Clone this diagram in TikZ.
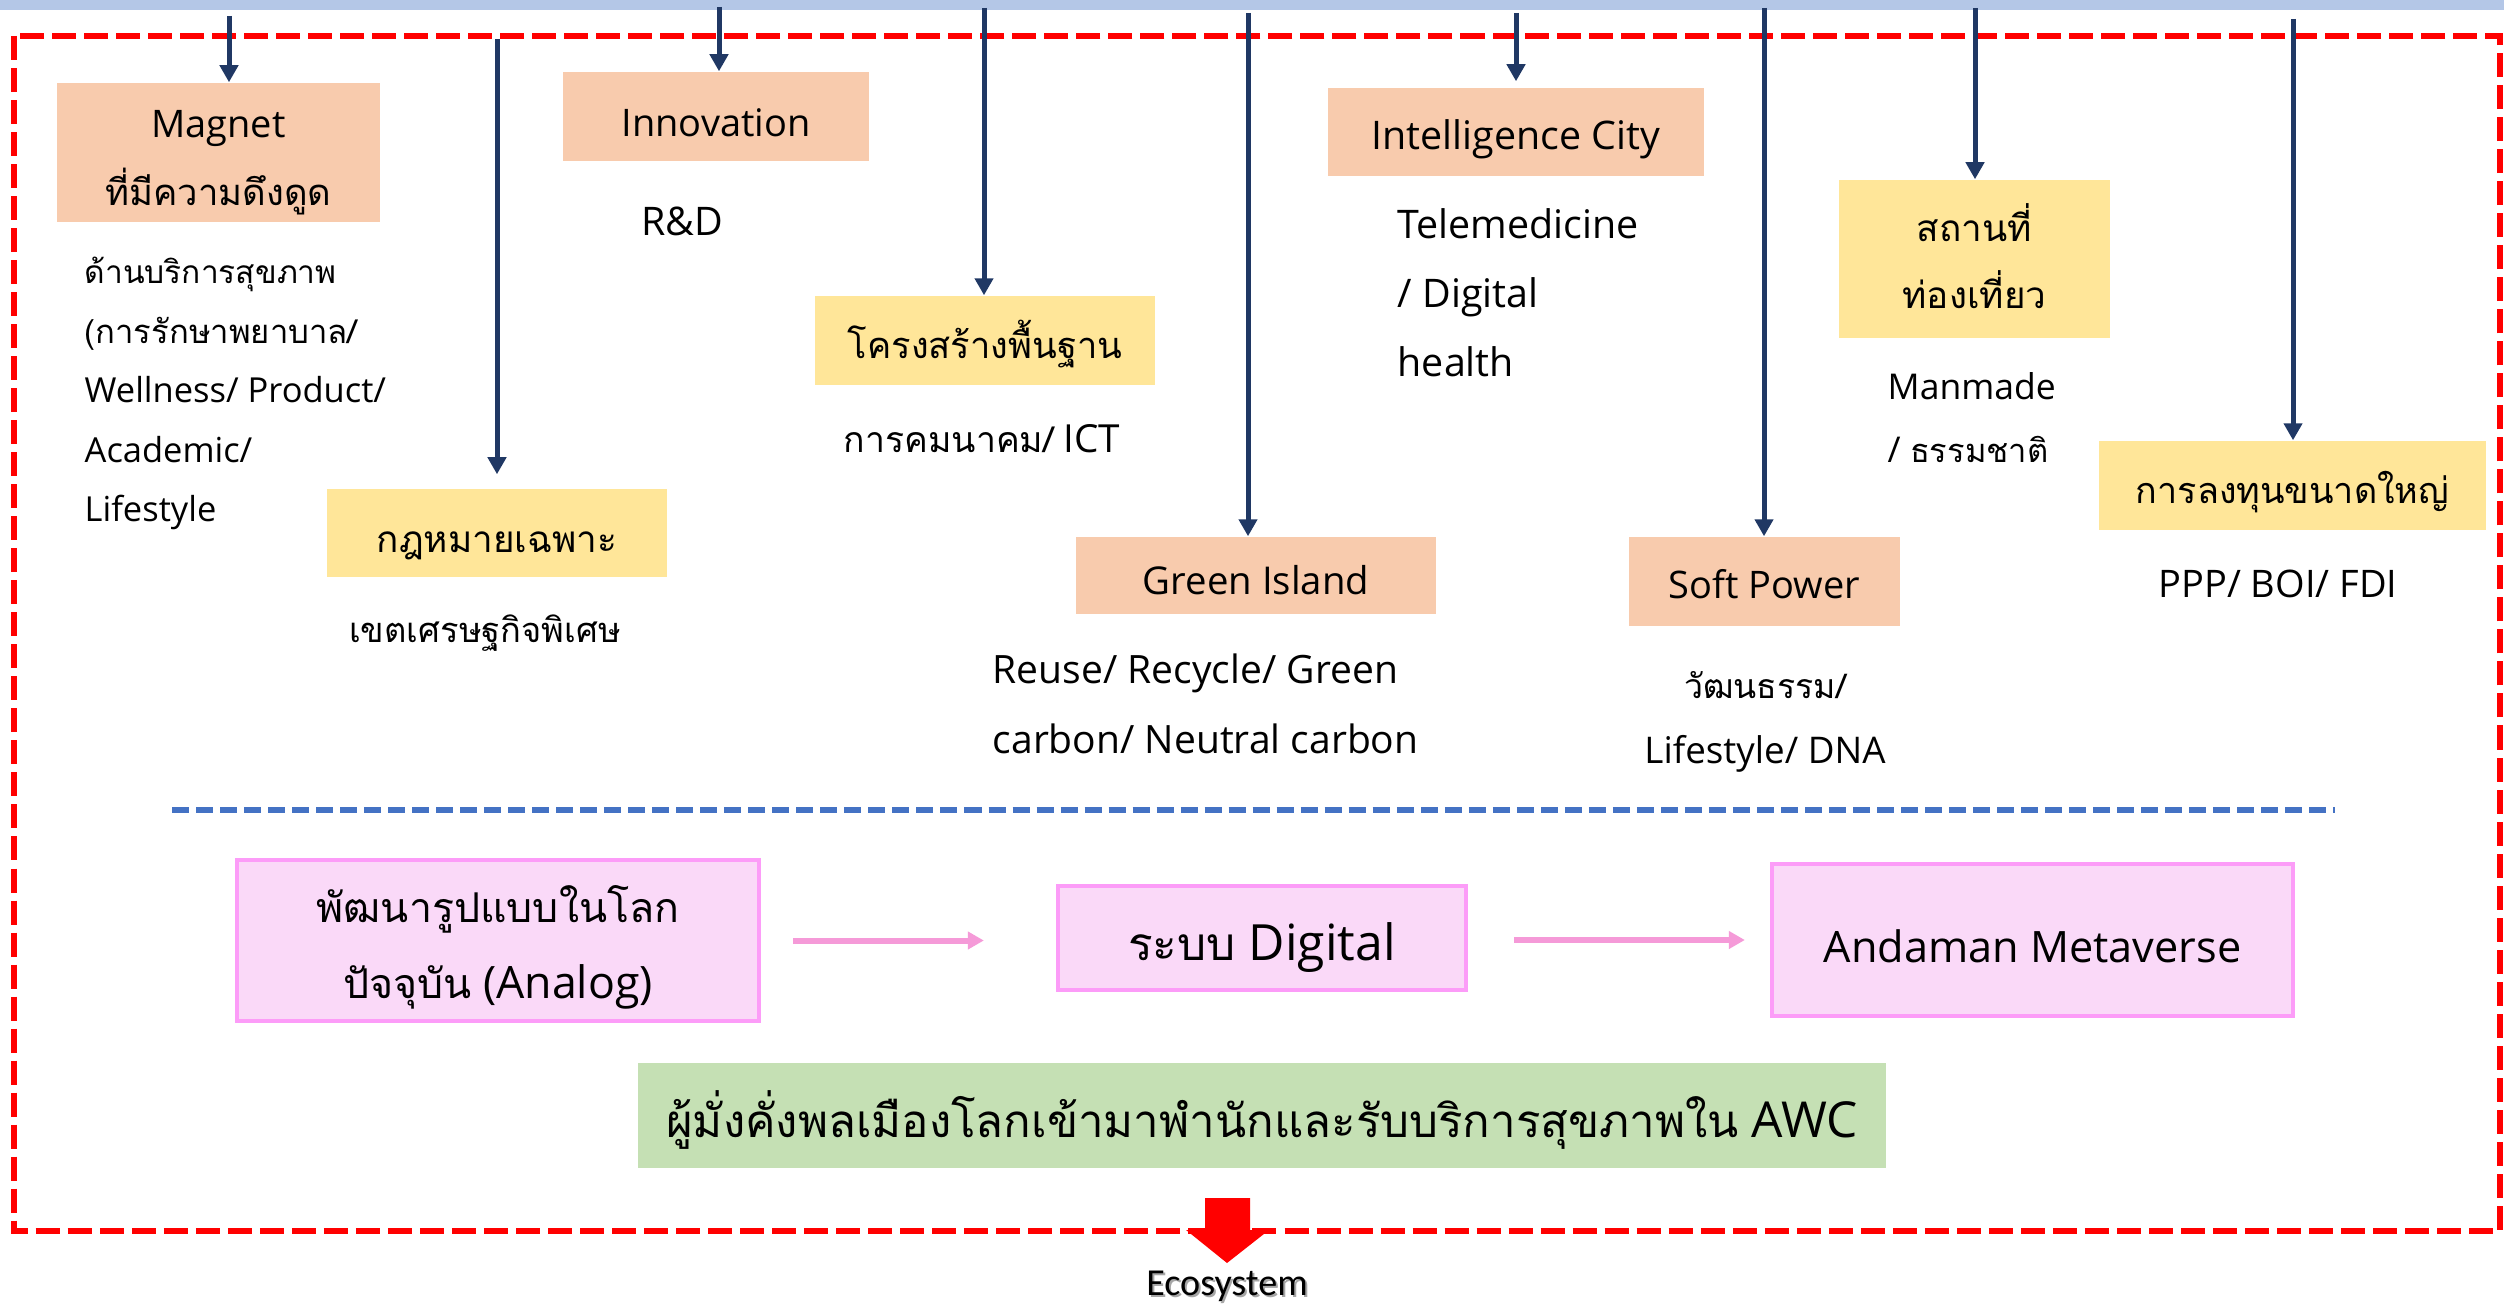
\documentclass[tikz,border=0pt]{standalone}
\usepackage{fontspec}
\setmainfont{Open Sans}
\newfontfamily\thai[Script=Thai,Scale=0.92]{Loma}
\newfontfamily\ecofont{Carlito}
\usetikzlibrary{arrows.meta}
\definecolor{navy}{HTML}{203864}
\definecolor{topbar}{HTML}{B4C7E7}
\definecolor{peach}{HTML}{F8CBAD}
\definecolor{yel}{HTML}{FFE699}
\definecolor{pinkfill}{HTML}{FAD9F8}
\definecolor{pinkline}{HTML}{FC9CF8}
\definecolor{pinkarr}{HTML}{F59AD8}
\definecolor{grn}{HTML}{C5E0B4}
\definecolor{bluedash}{HTML}{4472C4}
\definecolor{redd}{HTML}{FF0000}
\newcommand\myfs[1]{\fontsize{#1}{1.2\dimexpr#1\relax}\selectfont}
\newcommand\thaitxt[1]{{\thai #1}}
% baseline of the (last) line put #1 below the box centre
\newcommand\bl[2]{\raisebox{-#1}[0pt][0pt]{#2}}
\newcommand\stackc[2]{\vbox{\baselineskip=#1\lineskiplimit=-\maxdimen\lineskip=0pt\halign{\hfil##\hfil\cr#2\crcr}}}
\newcommand\stackl[2]{\vbox{\baselineskip=#1\lineskiplimit=-\maxdimen\lineskip=0pt\halign{##\hfil\cr#2\crcr}}}
\begin{document}
\begin{tikzpicture}[x=0.01cm,y=-0.01cm,
  box/.style={rectangle, inner sep=0pt},
  peachbox/.style={box, fill=peach},
  yelbox/.style={box, fill=yel},
  pinkbox/.style={rectangle, inner sep=0pt, fill=pinkfill, draw=pinkline, line width=0.04cm},
  desc/.style={inner sep=0pt},
  navyarrow/.style={draw=navy, line width=0.05cm, -{Triangle[width=0.18cm,length=0.17cm]}},
  pinkarrow/.style={draw=pinkarr, line width=0.06cm, -{Triangle[width=0.17cm,length=0.16cm]}},
]
\useasboundingbox (0,0) rectangle (2504,1304);
\fill[white] (0,0) rectangle (2504,1304);
\fill[topbar] (0,0) rectangle (2504,10);
% frame
\draw[redd, line width=0.06cm, dash pattern=on 0.24cm off 0.08cm] (14,36) rectangle (2500,1231);
\draw[bluedash, line width=0.054cm, dash pattern=on 0.17cm off 0.07cm] (172,810) -- (2335,810);

% boxes
\node[peachbox, minimum width=3.23cm, minimum height=1.39cm, font=\myfs{10.8pt}] (magnet) at (218.5,152.5)
  {\bl{0.525cm}{\stackc{19.2pt}{Magnet\cr\thaitxt{\myfs{11.25pt}ที่มีความดึงดูด}}}};
\node[peachbox, minimum width=3.06cm, minimum height=0.89cm, font=\myfs{10.8pt}] (innov) at (716,116.5) {\bl{0.195cm}{Innovation}};
\node[yelbox, minimum width=3.39cm, minimum height=0.88cm, font=\myfs{11.4pt}] (law) at (497,533) {\bl{0.19cm}{\thaitxt{กฎหมายเฉพาะ}}};
\node[yelbox, minimum width=3.40cm, minimum height=0.89cm, font=\myfs{11.2pt}] (infra) at (985,340.5) {\bl{0.175cm}{\thaitxt{โครงสร้างพื้นฐาน}}};
\node[peachbox, minimum width=3.60cm, minimum height=0.77cm, font=\myfs{10.9pt}] (green) at (1256,575.5) {\bl{0.185cm}{Green Island}};
\node[peachbox, minimum width=3.76cm, minimum height=0.88cm, font=\myfs{11.2pt}] (intel) at (1516,132) {\bl{0.18cm}{Intelligence City}};
\node[peachbox, minimum width=2.71cm, minimum height=0.89cm, font=\myfs{10.8pt}] (soft) at (1764.5,581.5) {\bl{0.165cm}{Soft Power}};
\node[yelbox, minimum width=2.71cm, minimum height=1.58cm, font=\myfs{11.4pt}] (tour) at (1974.5,259)
  {\bl{0.49cm}{\stackc{18.8pt}{\thaitxt{สถานที่}\cr\thaitxt{ท่องเที่ยว}}}};
\node[yelbox, minimum width=3.87cm, minimum height=0.89cm, font=\myfs{11.1pt}] (invest) at (2292.5,485.5) {\bl{0.175cm}{\thaitxt{การลงทุนขนาดใหญ่}}};

% descriptions (anchored at the baseline of their last line)
\node[desc, anchor=base, font=\myfs{11.2pt}] (rd) at (682,236) {R\&D};
\node[desc, anchor=base west, font=\myfs{9.8pt}] (magdesc) at (84,522)
  {\stackl{16.93pt}{\thaitxt{ด้านบริการสุขภาพ}\cr\thaitxt{\myfs{10.15pt}(การรักษาพยาบาล/}\cr Wellness/ Product/\cr Academic/\cr Lifestyle}};
\node[desc, anchor=base, font=\myfs{10.65pt}] (lawdesc) at (485,643) {\thaitxt{เขตเศรษฐกิจพิเศษ}};
\node[desc, anchor=base, font=\myfs{11pt}] (infradesc) at (982,453) {\thaitxt{การคมนาคม/} ICT};
\node[desc, anchor=base west, font=\myfs{11.2pt}] (teledesc) at (1397,377)
  {\stackl{19.63pt}{Telemedicine\cr / Digital\cr health}};
\node[desc, anchor=base west, font=\myfs{11.1pt}] (greendesc) at (992,753)
  {\stackl{19.63pt}{Reuse/ Recycle/ Green\cr carbon/ Neutral carbon}};
\node[desc, anchor=base west, font=\myfs{10.1pt}] (mandesc) at (1887,463)
  {\stackl{17.93pt}{Manmade\cr / \thaitxt{ธรรมชาติ}}};
\node[desc, anchor=base, font=\myfs{10.45pt}] (softdesc) at (1765,764)
  {\stackc{18.5pt}{\thaitxt{วัฒนธรรม/}\cr Lifestyle/ DNA}};
\node[desc, anchor=base, font=\myfs{10.8pt}] (investdesc) at (2278,598) {PPP/ BOI/ FDI};

% arrow starts
\coordinate (s1) at (229,16);
\coordinate (s2) at (497,39);
\coordinate (s3) at (719,7);
\coordinate (s4) at (984,8);
\coordinate (s5) at (1248,13);
\coordinate (s6) at (1516,13);
\coordinate (s7) at (1764,8);
\coordinate (s8) at (1975,8);
\coordinate (s9) at (2293,19);
\draw[navyarrow] (s1) -- (s1 |- magnet.north);
\draw[navyarrow, shorten >=0.14cm] (s2) -- (s2 |- law.north);
\draw[navyarrow] (s3) -- (s3 |- innov.north);
\draw[navyarrow] (s4) -- (s4 |- infra.north);
\draw[navyarrow] (s5) -- (s5 |- green.north);
\draw[navyarrow, shorten >=0.06cm] (s6) -- (s6 |- intel.north);
\draw[navyarrow] (s7) -- (s7 |- soft.north);
\draw[navyarrow] (s8) -- (s8 |- tour.north);
\draw[navyarrow] (s9) -- (s9 |- invest.north);

% bottom section
\node[pinkbox, minimum width=5.22cm, minimum height=1.61cm, font=\myfs{12.7pt}] (analog) at (498,940.5)
  {\bl{0.575cm}{\stackc{21.6pt}{\thaitxt{พัฒนารูปแบบในโลก}\cr\thaitxt{ปัจจุบัน} (Analog)}}};
\node[pinkbox, minimum width=4.08cm, minimum height=1.04cm, font=\myfs{14.2pt}] (digital) at (1262,938) {\bl{0.22cm}{\thaitxt{ระบบ} Digital}};
\node[pinkbox, minimum width=5.21cm, minimum height=1.52cm, font=\myfs{12.3pt}] (meta) at (2032.5,940) {\bl{0.22cm}{Andaman Metaverse}};
\draw[pinkarrow, shorten <=0.32cm, shorten >=0.72cm] (analog.east) -- (analog.east -| digital.west);
\draw[pinkarrow, shorten <=0.46cm, shorten >=0.25cm] (digital.east |- meta.west) -- (meta.west);
\node[rectangle, inner sep=0pt, fill=grn, minimum width=12.48cm, minimum height=1.05cm, font=\myfs{14.1pt}] (rich) at (1262,1115.5)
  {\bl{0.215cm}{\thaitxt{ผู้มั่งคั่งพลเมืองโลกเข้ามาพำนักและรับบริการสุขภาพใน} AWC}};

% ecosystem arrow
\fill[redd] (1205,1198) -- (1250,1198) -- (1250,1230) -- (1269,1230) -- (1227,1263) -- (1186,1230) -- (1205,1230) -- cycle;
\node[inner sep=0pt, anchor=base, font=\ecofont\fontsize{10.85pt}{12pt}\selectfont, text=black!35] (ecoshadow) at (1229,1297) {Ecosystem};
\node[inner sep=0pt, anchor=base, font=\ecofont\fontsize{10.85pt}{12pt}\selectfont] (eco) at (1227,1295) {Ecosystem};
\end{tikzpicture}
\end{document}
